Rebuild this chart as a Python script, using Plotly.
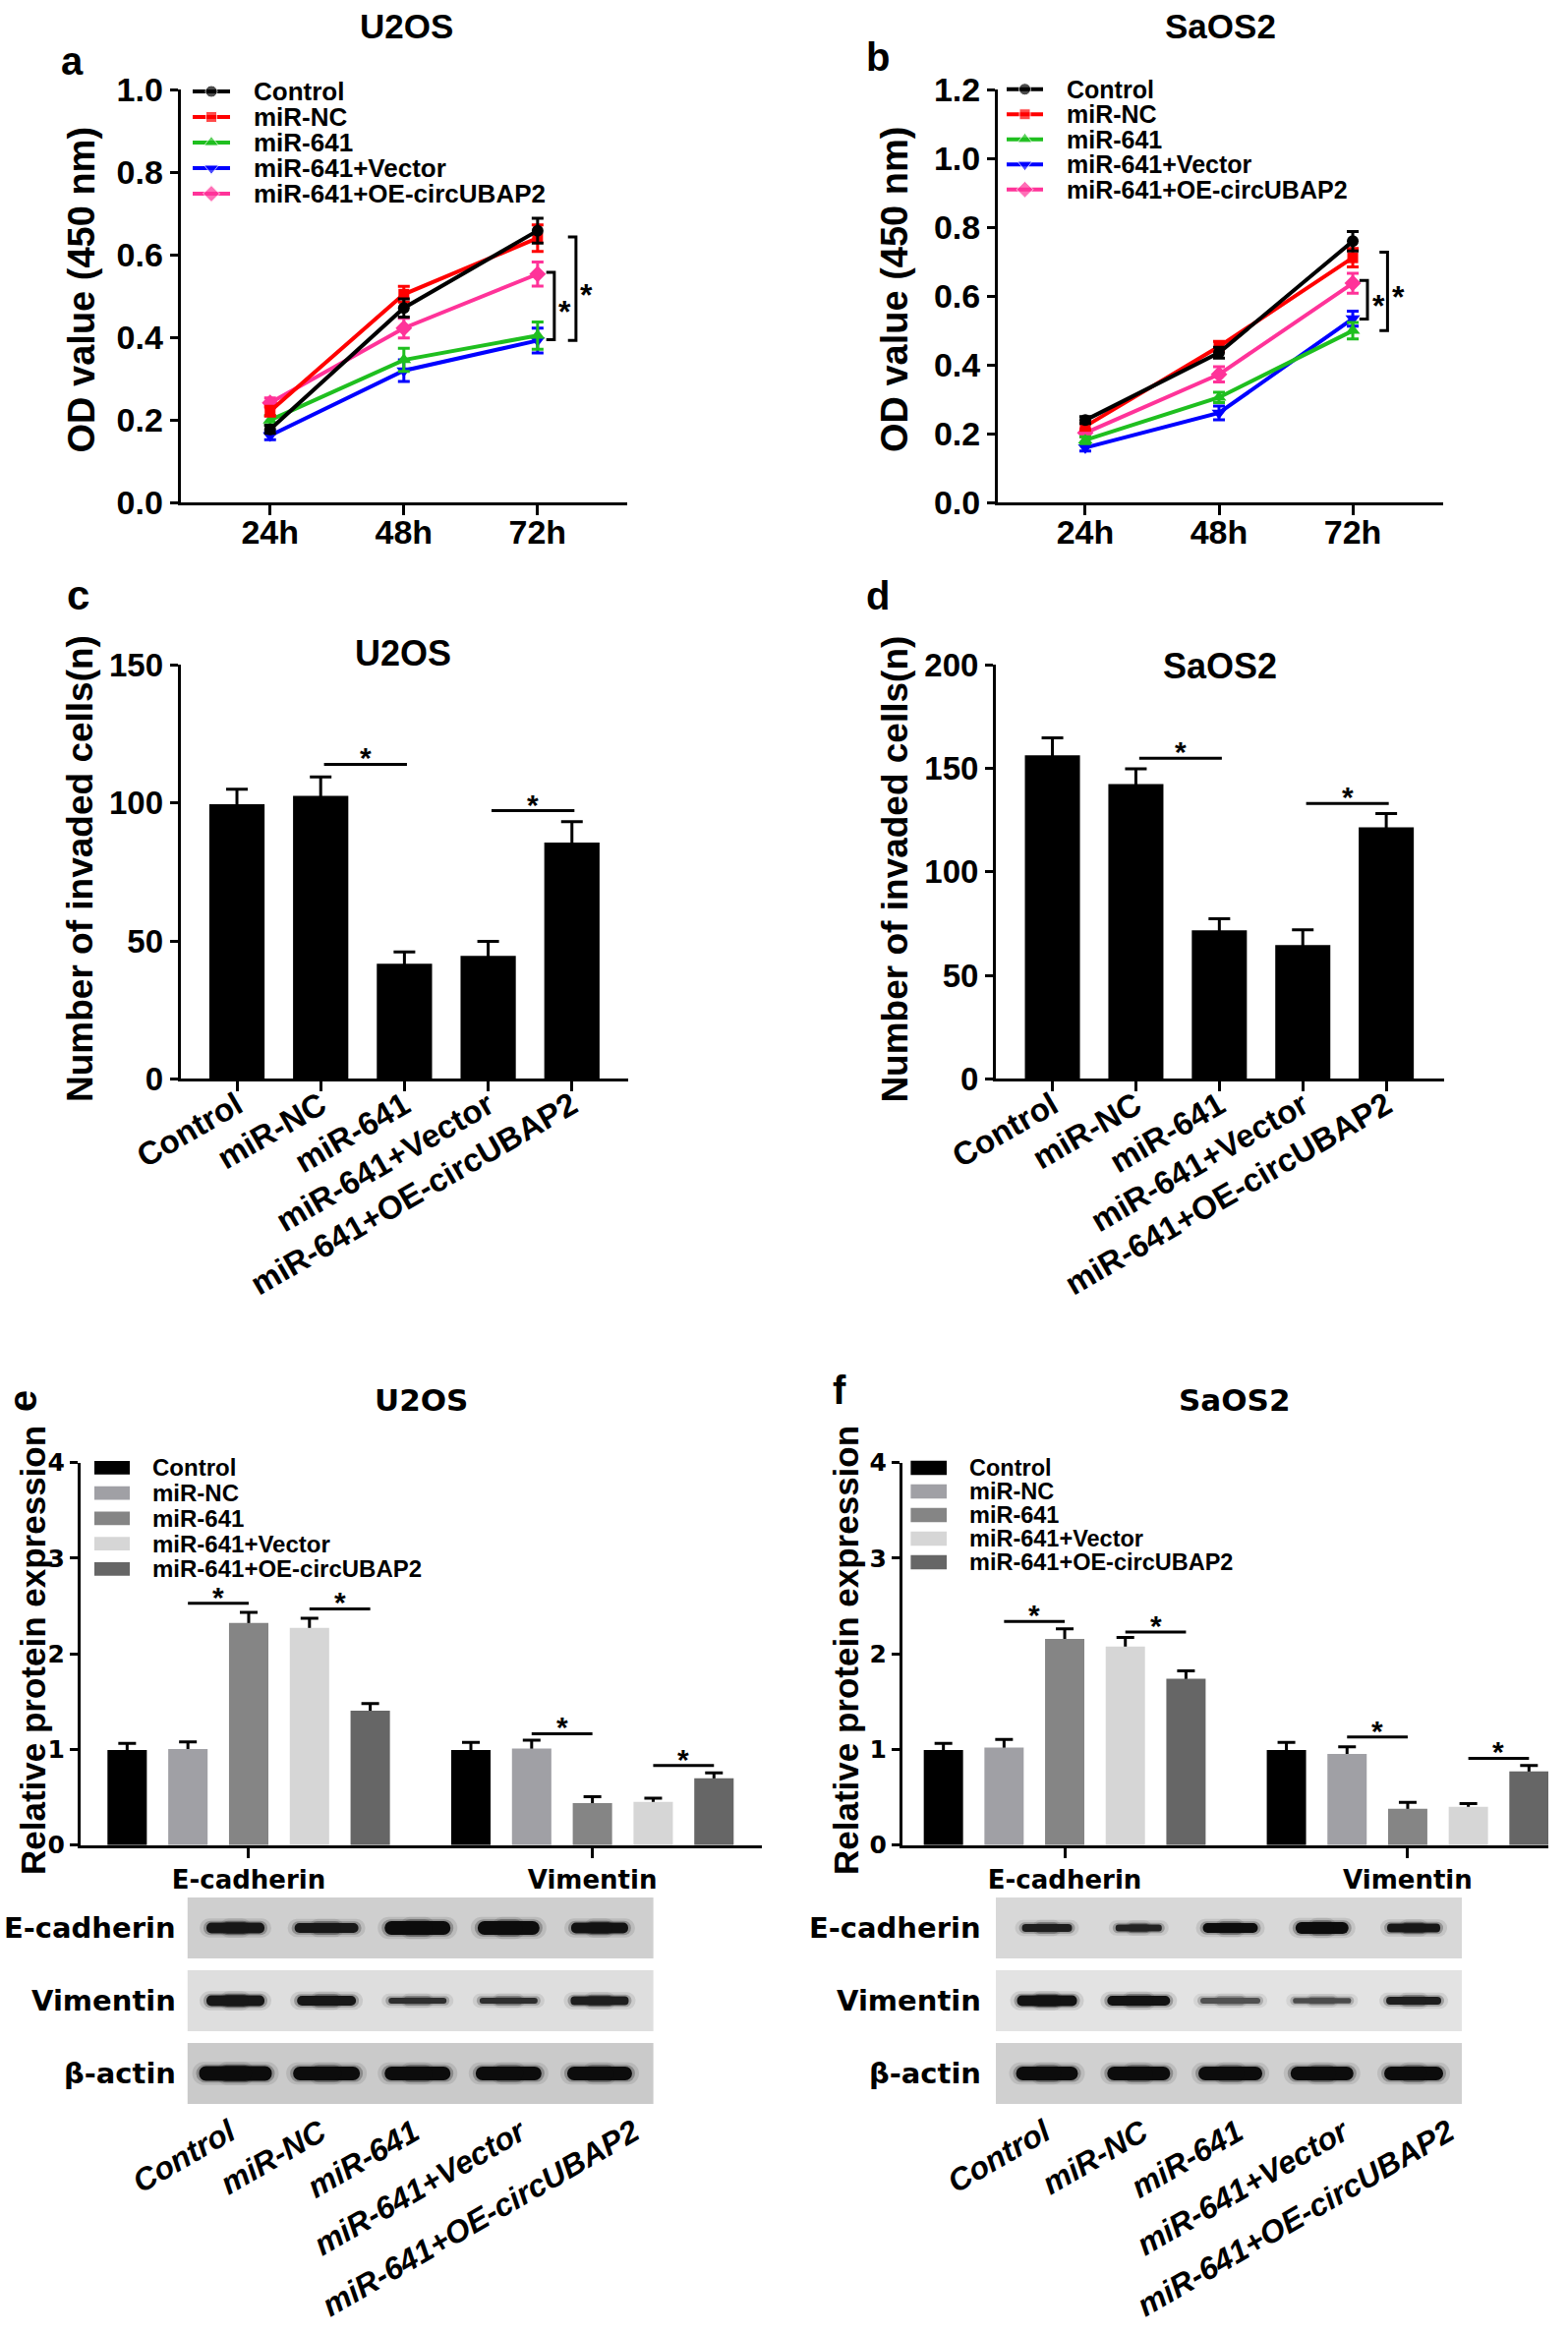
import plotly.graph_objects as go

W, H = 1595, 2374

# ---------------------------------------------------------------- data
groups = ["Control", "miR-NC", "miR-641", "miR-641+Vector", "miR-641+OE-circUBAP2"]
times = ["24h", "48h", "72h"]
proteins = ["E-cadherin", "Vimentin"]
blot_rows = ["E-cadherin", "Vimentin", "β-actin"]

# a: U2OS CCK-8 (OD 450 nm)
u2os_od_control = [0.177, 0.471, 0.658]
u2os_od_mirnc = [0.221, 0.504, 0.640]
u2os_od_mir641 = [0.199, 0.345, 0.404]
u2os_od_vector = [0.162, 0.319, 0.392]
u2os_od_oe = [0.241, 0.422, 0.553]
u2os_od_err_control = [0.010, 0.022, 0.030]
u2os_od_err_mirnc = [0.012, 0.019, 0.032]
u2os_od_err_mir641 = [0.012, 0.028, 0.033]
u2os_od_err_vector = [0.010, 0.026, 0.030]
u2os_od_err_oe = [0.012, 0.024, 0.029]
u2os_od_brackets = [[0.557, 0.394], [0.643, 0.392]]

# b: SaOS2 CCK-8 (OD 450 nm)
saos2_od_control = [0.239, 0.435, 0.759]
saos2_od_mirnc = [0.221, 0.453, 0.711]
saos2_od_mir641 = [0.181, 0.305, 0.499]
saos2_od_vector = [0.159, 0.260, 0.534]
saos2_od_oe = [0.202, 0.372, 0.637]
saos2_od_err_control = [0.010, 0.016, 0.028]
saos2_od_err_mirnc = [0.010, 0.015, 0.027]
saos2_od_err_mir641 = [0.010, 0.015, 0.024]
saos2_od_err_vector = [0.010, 0.020, 0.022]
saos2_od_err_oe = [0.012, 0.022, 0.029]
saos2_od_brackets = [[0.645, 0.533], [0.727, 0.499]]

# c / d: invaded cells
u2os_invasion = [99.5, 102.6, 41.7, 44.6, 85.6]
u2os_invasion_err = [5.5, 6.8, 4.3, 5.2, 7.6]
u2os_invasion_sig = [[1, 2, 114.0], [3, 4, 97.2]]
saos2_invasion = [156.3, 142.4, 71.8, 64.6, 121.5]
saos2_invasion_err = [8.5, 7.4, 5.5, 7.4, 6.7]
saos2_invasion_sig = [[1, 2, 154.9], [3, 4, 133.1]]

# e / f: relative protein expression
u2os_ecad = [0.994, 1.004, 2.324, 2.272, 1.405]
u2os_ecad_err = [0.069, 0.076, 0.110, 0.100, 0.075]
u2os_vim = [0.994, 1.011, 0.439, 0.452, 0.699]
u2os_vim_err = [0.079, 0.086, 0.068, 0.038, 0.055]
u2os_prot_sig = [[0, 1, 2, 2.53], [0, 3, 4, 2.47], [1, 1, 2, 1.165], [1, 3, 4, 0.833]]
saos2_ecad = [0.994, 1.021, 2.156, 2.077, 1.741]
saos2_ecad_err = [0.069, 0.083, 0.106, 0.096, 0.082]
saos2_vim = [0.994, 0.953, 0.380, 0.401, 0.771]
saos2_vim_err = [0.079, 0.075, 0.066, 0.034, 0.062]
saos2_prot_sig = [[0, 1, 2, 2.338], [0, 3, 4, 2.228], [1, 1, 2, 1.131], [1, 3, 4, 0.908]]

# western blot bands: width (px), thickness (px), darkness (0-1)
u2os_blot_ecad_w = [59, 65, 67, 63, 58]
u2os_blot_ecad_t = [11, 10, 14, 14, 11]
u2os_blot_ecad_d = [0.95, 0.95, 1.0, 1.0, 0.97]
u2os_blot_vim_w = [59, 60, 59, 59, 59]
u2os_blot_vim_t = [11, 10, 6, 6, 9]
u2os_blot_vim_d = [0.95, 0.95, 0.85, 0.85, 0.92]
u2os_blot_actin_w = [74, 68, 67, 67, 66]
u2os_blot_actin_t = [15, 14, 14, 14, 14]
u2os_blot_actin_d = [1.0, 1.0, 1.0, 1.0, 1.0]
saos2_blot_ecad_w = [51, 47, 56, 54, 54]
saos2_blot_ecad_t = [8, 7, 10, 12, 9]
saos2_blot_ecad_d = [0.92, 0.9, 1.0, 1.0, 0.95]
saos2_blot_vim_w = [61, 64, 61, 59, 56]
saos2_blot_vim_t = [11, 10, 6, 5.5, 8]
saos2_blot_vim_d = [0.97, 0.97, 0.7, 0.72, 0.92]
saos2_blot_actin_w = [63, 64, 65, 64, 60]
saos2_blot_actin_t = [14, 14, 14, 14, 14]
saos2_blot_actin_d = [1.0, 1.0, 1.0, 1.0, 1.0]

# ---------------------------------------------------------------- styles
line_colors = ["#000000", "#ff0000", "#1fbf1f", "#0000ff", "#ff3399"]
line_symbols = ["circle", "square", "triangle-up", "triangle-down", "diamond"]
marker_sizes = [12, 11, 13, 13, 13]
bar_grays = ["#000000", "#a0a0a5", "#858585", "#d6d6d6", "#666666"]
u2os_strip_bg = ["#cfcfcf", "#dedede", "#cacaca"]
saos2_strip_bg = ["#d8d8d8", "#e3e3e3", "#d0d0d0"]
# top-right corners (px) of the slanted lane labels under the blots
u2os_lane_label_x = [249, 341, 435, 544, 659]
saos2_lane_label_x = [1078, 1177, 1273, 1381, 1488]
lane_label_y = 2146
ARIAL = "Liberation Sans, Arial, Helvetica, sans-serif"
DEJAVU = "DejaVu Sans, Verdana, sans-serif"
BARGAP = 0.116


def font(size, family=ARIAL, style="normal"):
    return dict(family=family, size=size, color="black", weight="bold", style=style)


layout = dict(width=W, height=H, autosize=False,
              margin=dict(l=0, r=0, t=0, b=0, pad=0, autoexpand=False),
              paper_bgcolor="white", plot_bgcolor="white", showlegend=False,
              barmode="group", bargap=BARGAP, bargroupgap=0.352)
annotations, shapes, traces = [], [], []

AX = dict(showline=True, linecolor="black", linewidth=3, ticks="outside", automargin=False,
          tickcolor="black", tickwidth=3, showgrid=False, zeroline=False, fixedrange=True)
HID = dict(visible=False, fixedrange=True, showgrid=False, zeroline=False, automargin=False)


def names(n):
    s = "" if n == 1 else str(n)
    return "xaxis" + s, "yaxis" + s, "x" + s, "y" + s


def set_axes(n, xpx, ypx, xkw, ykw):
    xa, ya, xr, yr = names(n)
    layout[xa] = dict(domain=[xpx[0] / W, xpx[1] / W], anchor=yr, **xkw)
    layout[ya] = dict(domain=[1 - ypx[1] / H, 1 - ypx[0] / H], anchor=xr, **ykw)
    return xr, yr


def paper_text(xpx, ypx, text, size, family=ARIAL, angle=0, xanchor="center", yanchor="middle",
               style="normal"):
    annotations.append(dict(x=xpx / W, y=1 - ypx / H, xref="paper", yref="paper", text=text,
                            showarrow=False, textangle=angle, xanchor=xanchor, yanchor=yanchor,
                            font=font(size, family, style)))


# ---------------------------------------------------------------- a & b (line charts)
def line_panel(n, xpx, ypx, xrange, ymax, means, errs, brackets, bx, star_dx):
    yticks = [round(i * 0.2, 1) for i in range(int(round(ymax / 0.2)) + 1)]
    xr, yr = set_axes(n, xpx, ypx,
                      dict(AX, range=xrange, tickmode="array", tickvals=list(range(len(times))),
                           ticktext=times, ticklen=10, tickfont=font(34), ticklabelstandoff=-12),
                      dict(AX, range=[0, ymax], tickmode="array", tickvals=yticks,
                           ticktext=["%.1f" % v for v in yticks], ticklen=8, tickfont=font(34)))
    xs = list(range(len(times)))
    for i in reversed(range(len(groups))):
        traces.append(go.Scatter(
            x=xs, y=means[i], mode="lines+markers", xaxis=xr, yaxis=yr, cliponaxis=False,
            line=dict(color=line_colors[i], width=4),
            marker=dict(symbol=line_symbols[i], size=marker_sizes[i], color=line_colors[i]),
            error_y=dict(type="data", array=errs[i], color=line_colors[i], thickness=3, width=6),
            hoverinfo="skip"))
    last = xs[-1]
    for (ytop, ybot), dx, sdx in zip(brackets, bx, star_dx):
        xpos = last + dx
        arm = 0.06
        traces.append(go.Scatter(x=[xpos - arm, xpos, xpos, xpos - arm], y=[ytop, ytop, ybot, ybot],
                                 mode="lines", line=dict(color="black", width=3),
                                 xaxis=xr, yaxis=yr, cliponaxis=False, hoverinfo="skip"))
        annotations.append(dict(x=xpos + sdx, y=(ytop + ybot) / 2, xref=xr, yref=yr, text="*",
                                showarrow=False, font=font(32), xanchor="center", yanchor="middle",
                                yshift=-6))


line_panel(1, (183.6, 638), (91, 511), [-0.67, 2.67], 1.0,
           [u2os_od_control, u2os_od_mirnc, u2os_od_mir641, u2os_od_vector, u2os_od_oe],
           [u2os_od_err_control, u2os_od_err_mirnc, u2os_od_err_mir641, u2os_od_err_vector, u2os_od_err_oe],
           u2os_od_brackets, [0.125, 0.287], [0.075, 0.075])
line_panel(2, (1015, 1468), (91, 511), [-0.654, 2.676], 1.2,
           [saos2_od_control, saos2_od_mirnc, saos2_od_mir641, saos2_od_vector, saos2_od_oe],
           [saos2_od_err_control, saos2_od_err_mirnc, saos2_od_err_mir641, saos2_od_err_vector, saos2_od_err_oe],
           saos2_od_brackets, [0.11, 0.26], [0.084, 0.082])


def line_legend(n, xpx0, ytop, row_h, x0, x1, tx, size):
    nrows = len(groups)
    width = 420
    xr, yr = set_axes(n, (xpx0, xpx0 + width), (ytop, ytop + nrows * row_h),
                      dict(HID, range=[0, width]), dict(HID, range=[nrows - 0.5, -0.5]))
    for i, g in enumerate(groups):
        traces.append(go.Scatter(x=[x0, (x0 + x1) / 2, x1], y=[i, i, i], mode="lines+markers",
                                 line=dict(color=line_colors[i], width=4),
                                 marker=dict(symbol=line_symbols[i], size=[0, marker_sizes[i], 0],
                                             color=line_colors[i]),
                                 xaxis=xr, yaxis=yr, cliponaxis=False, hoverinfo="skip"))
        annotations.append(dict(x=tx, y=i, xref=xr, yref=yr, text=g, showarrow=False,
                                xanchor="left", yanchor="middle", font=font(size)))


line_legend(13, 190, 80, 26, 6, 44, 66, 26)
line_legend(14, 1018, 78, 25.5, 6, 43, 65, 25)

# ---------------------------------------------------------------- c & d (bar charts)
def invasion_panel(n, xpx, ypx, xrange, ymax, vals, errs, sig):
    xr, yr = set_axes(n, xpx, ypx,
                      dict(AX, range=xrange, tickmode="array", tickvals=list(range(len(groups))),
                           ticktext=groups, ticklen=10, tickangle=-30, tickfont=font(33),
                           ticklabelstandoff=-18),
                      dict(AX, range=[0, ymax], dtick=50, tick0=0, ticklen=8, tickfont=font(33)))
    xs = list(range(len(groups)))
    traces.append(go.Bar(x=xs, y=vals, width=0.66, offset=-0.33, offsetgroup="inv",
                         marker=dict(color="rgba(0,0,0,0)", line=dict(width=0)),
                         error_y=dict(type="data", array=errs, color="black", thickness=3, width=11),
                         xaxis=xr, yaxis=yr, hoverinfo="skip"))
    traces.append(go.Bar(x=xs, y=vals, width=0.66, offset=-0.33, offsetgroup="inv",
                         marker=dict(color="black", line=dict(width=0)),
                         xaxis=xr, yaxis=yr, hoverinfo="skip"))
    for i, j, yv in sig:
        traces.append(go.Scatter(x=[i + 0.04, j + 0.03], y=[yv, yv], mode="lines",
                                 line=dict(color="black", width=3), xaxis=xr, yaxis=yr,
                                 cliponaxis=False, hoverinfo="skip"))
        annotations.append(dict(x=(i + j) / 2 + 0.035, y=yv, xref=xr, yref=yr, text="*",
                                showarrow=False, font=font(30), xanchor="center",
                                yanchor="bottom", yshift=-12))


invasion_panel(3, (183.6, 638.5), (676.4, 1097.3), [-0.674, 4.666], 150,
               u2os_invasion, u2os_invasion_err, u2os_invasion_sig)
invasion_panel(4, (1013, 1468.7), (676.4, 1097.3), [-0.678, 4.69], 200,
               saos2_invasion, saos2_invasion_err, saos2_invasion_sig)

# ---------------------------------------------------------------- e & f (grouped bars)
def protein_panel(n, xpx, ypx, xrange, ecad, ecad_err, vim, vim_err, sig):
    xr, yr = set_axes(n, xpx, ypx,
                      dict(AX, range=xrange, tickmode="array", tickvals=list(range(len(proteins))),
                           ticktext=proteins, ticklen=10, tickfont=font(26, DEJAVU)),
                      dict(AX, range=[0, 4], dtick=1, tick0=0, ticklen=8, tickfont=font(25, DEJAVU)))
    xs = list(range(len(proteins)))
    for k, g in enumerate(groups):
        yv = [ecad[k], vim[k]]
        ev = [ecad_err[k], vim_err[k]]
        traces.append(go.Bar(x=xs, y=yv, offsetgroup=g,
                             marker=dict(color="rgba(0,0,0,0)", line=dict(width=0)),
                             error_y=dict(type="data", array=ev, color="black", thickness=3, width=9),
                             xaxis=xr, yaxis=yr, hoverinfo="skip"))
        traces.append(go.Bar(x=xs, y=yv, offsetgroup=g,
                             marker=dict(color=bar_grays[k], line=dict(width=0)),
                             xaxis=xr, yaxis=yr, hoverinfo="skip"))
    slot = (1 - BARGAP) / len(groups)
    mid = (len(groups) - 1) / 2
    for gi, i, j, yv in sig:
        x0 = gi + (i - mid) * slot
        x1 = gi + (j - mid) * slot
        traces.append(go.Scatter(x=[x0, x1], y=[yv, yv], mode="lines",
                                 line=dict(color="black", width=3), xaxis=xr, yaxis=yr,
                                 cliponaxis=False, hoverinfo="skip"))
        annotations.append(dict(x=(x0 + x1) / 2, y=yv, xref=xr, yref=yr, text="*",
                                showarrow=False, font=font(30), xanchor="center",
                                yanchor="bottom", yshift=-12))


protein_panel(5, (82, 775), (1487.7, 1876.7), [-0.489, 1.493],
              u2os_ecad, u2os_ecad_err, u2os_vim, u2os_vim_err, u2os_prot_sig)
protein_panel(6, (918, 1575), (1487.7, 1876.7), [-0.473, 1.41],
              saos2_ecad, saos2_ecad_err, saos2_vim, saos2_vim_err, saos2_prot_sig)


def bar_legend(n, xpx0, ytop, row_h, x0, x1, tx, thick, size):
    nrows = len(groups)
    width = 420
    xr, yr = set_axes(n, (xpx0, xpx0 + width), (ytop, ytop + nrows * row_h),
                      dict(HID, range=[0, width]), dict(HID, range=[nrows - 0.5, -0.5]))
    rows = list(range(nrows))
    traces.append(go.Bar(y=rows, x=[x1 - x0] * nrows, base=[x0] * nrows, orientation="h",
                         width=[thick] * nrows, offset=[-thick / 2] * nrows, offsetgroup="leg",
                         marker=dict(color=bar_grays, line=dict(width=0)),
                         xaxis=xr, yaxis=yr, hoverinfo="skip"))
    for i, g in enumerate(groups):
        annotations.append(dict(x=tx, y=i, xref=xr, yref=yr, text=g, showarrow=False,
                                xanchor="left", yanchor="middle", font=font(size)))


bar_legend(15, 90, 1480, 25.75, 6, 42, 63, 0.54, 24)
bar_legend(16, 920, 1481, 24, 6.4, 43, 63.5, 0.6, 23.5)

# ---------------------------------------------------------------- western blots
def blot_strip(n, xpx, ypx, lane_px, xrange, widths, thick, dark, bg):
    strip_h = ypx[1] - ypx[0]
    lanes = list(range(len(groups)))
    xr, yr = set_axes(n, xpx, ypx, dict(HID, range=xrange), dict(HID, range=[-0.5, 0.5]))
    shapes.append(dict(type="rect", xref=xr + " domain", yref=yr + " domain", x0=0, x1=1, y0=0, y1=1,
                       fillcolor=bg, line=dict(width=0), layer="below"))
    for grow, alpha in [(14, 0.10), (6, 0.28), (0, None)]:
        hw = [(w + grow) / 2 / lane_px for w in widths]
        th = [(t + grow * 0.6) / strip_h for t in thick]
        ov = [h * 0.45 for h in hw]           # halves overlap so the band has no seam
        if alpha is None:
            cols = ["rgb(%d,%d,%d)" % ((int(12 + (1 - d) * 230),) * 3) for d in dark]
        else:
            cols = ["rgba(20,20,20,%.2f)" % (alpha * d) for d in dark]
        right_base = [l - o for l, o in zip(lanes, ov)]
        left_base = [l + o for l, o in zip(lanes, ov)]
        traces.append(go.Bar(
            y=[0] * (2 * len(lanes)),
            x=[h + o for h, o in zip(hw, ov)] + [-(h + o) for h, o in zip(hw, ov)],
            base=right_base + left_base,
            orientation="h", width=th + th, offset=[-t / 2 for t in th] * 2, offsetgroup="band",
            marker=dict(color=cols + cols, cornerradius="50%", line=dict(width=0)),
            xaxis=xr, yaxis=yr, hoverinfo="skip"))


strip_y = [(1930, 1992), (2004, 2066), (2078, 2140)]
u2os_blot = [(u2os_blot_ecad_w, u2os_blot_ecad_t, u2os_blot_ecad_d),
             (u2os_blot_vim_w, u2os_blot_vim_t, u2os_blot_vim_d),
             (u2os_blot_actin_w, u2os_blot_actin_t, u2os_blot_actin_d)]
saos2_blot = [(saos2_blot_ecad_w, saos2_blot_ecad_t, saos2_blot_ecad_d),
              (saos2_blot_vim_w, saos2_blot_vim_t, saos2_blot_vim_d),
              (saos2_blot_actin_w, saos2_blot_actin_t, saos2_blot_actin_d)]
for r in range(3):
    w, t, d = u2os_blot[r]
    blot_strip(7 + r, (190.8, 664.6), strip_y[r], 92.6, [-0.526, 4.59], w, t, d, u2os_strip_bg[r])
    paper_text(180.5, (strip_y[r][0] + strip_y[r][1]) / 2, blot_rows[r], 29, DEJAVU, xanchor="right")
    w, t, d = saos2_blot[r]
    blot_strip(10 + r, (1013, 1487), strip_y[r], 93.25, [-0.558, 4.525], w, t, d, saos2_strip_bg[r])
    paper_text(1000, (strip_y[r][0] + strip_y[r][1]) / 2, blot_rows[r], 29, DEJAVU, xanchor="right")

for g, xe, xf in zip(groups, u2os_lane_label_x, saos2_lane_label_x):
    paper_text(xe, lane_label_y, g, 32, ARIAL, angle=-30, xanchor="right", yanchor="top", style="italic")
    paper_text(xf, lane_label_y, g, 32, ARIAL, angle=-30, xanchor="right", yanchor="top", style="italic")

# ---------------------------------------------------------------- titles, letters, axis titles
paper_text(413, 5, "U2OS", 35, yanchor="top")
paper_text(1241, 5, "SaOS2", 35, yanchor="top")
paper_text(410, 664, "U2OS", 36)
paper_text(1241, 677, "SaOS2", 36)
paper_text(428, 1424, "U2OS", 31, DEJAVU)
paper_text(1256, 1424, "SaOS2", 31, DEJAVU)

paper_text(73, 62, "a", 40)
paper_text(893, 58, "b", 40)
paper_text(79, 605, "c", 42)
paper_text(893, 606, "d", 40)
paper_text(23, 1425, "e", 40, angle=-90)
paper_text(854, 1414, "f", 40)

paper_text(82, 294.5, "OD value (450 nm)", 38, angle=-90)
paper_text(909.6, 294.5, "OD value (450 nm)", 38, angle=-90)
paper_text(81, 884, "Number of invaded cells(n)", 37, angle=-90)
paper_text(909.6, 884, "Number of invaded cells(n)", 37, angle=-90)
paper_text(33, 1679, "Relative protein expression", 35, angle=-90)
paper_text(860, 1679, "Relative protein expression", 35, angle=-90)

layout["annotations"] = annotations
layout["shapes"] = shapes
fig = go.Figure(data=traces, layout=layout)
fig.write_html(
    "out.html",
    config={"displayModeBar": False},
    post_script="document.body.style.margin='0px';document.documentElement.style.margin='0px';",
)
